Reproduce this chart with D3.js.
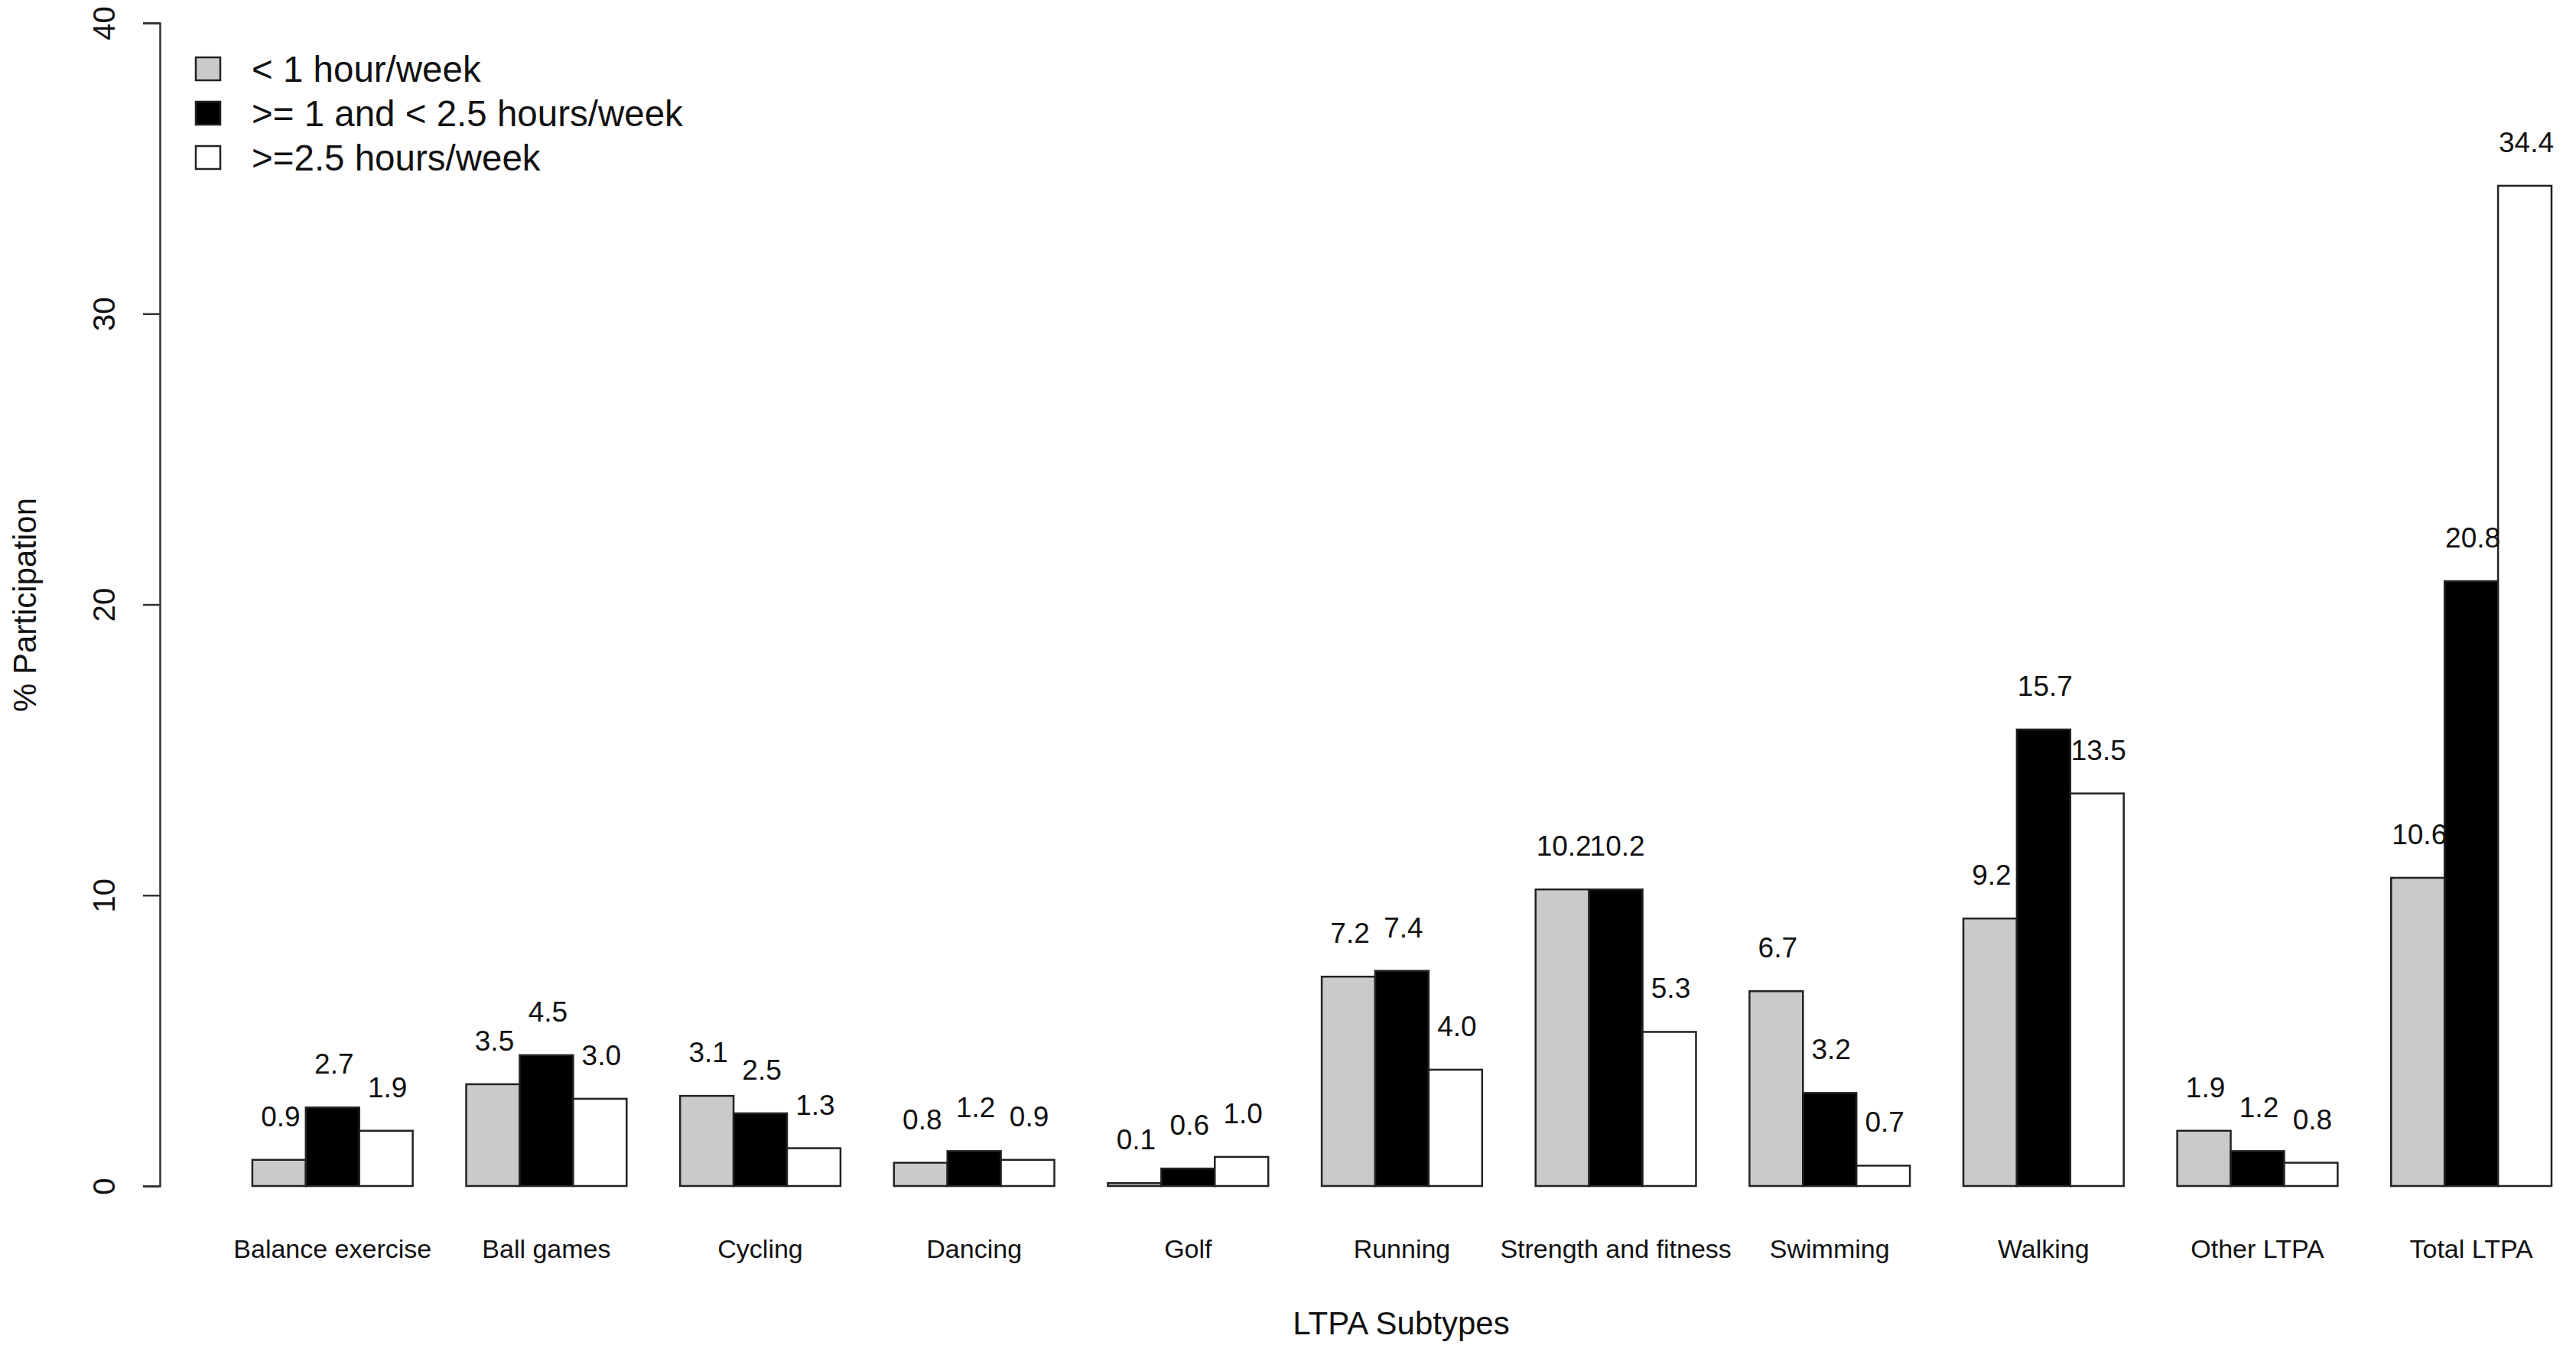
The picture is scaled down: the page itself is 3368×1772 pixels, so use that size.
<!DOCTYPE html>
<html>
<head>
<meta charset="utf-8">
<script src="https://cdn.jsdelivr.net/npm/d3@7"></script>
<style>
  body { margin: 0; background: #fff; }
  text { font-family: "Liberation Sans", Arial, sans-serif; fill: #111; }
</style>
</head>
<body>
<svg id="chart" width="3368" height="1772"></svg>
<script>
// categories on the x axis
var categories = ['Balance exercise', 'Ball games', 'Cycling', 'Dancing', 'Golf', 'Running',
    'Strength and fitness', 'Swimming', 'Walking', 'Other LTPA', 'Total LTPA'];

// series names (legend) and their values (% participation)
var seriesNames = ['< 1 hour/week', '>= 1 and < 2.5 hours/week', '>=2.5 hours/week'];
var lessThan1 = [0.9, 3.5, 3.1, 0.8, 0.1, 7.2, 10.2, 6.7, 9.2, 1.9, 10.6];
var between1and25 = [2.7, 4.5, 2.5, 1.2, 0.6, 7.4, 10.2, 3.2, 15.7, 1.2, 20.8];
var atLeast25 = [1.9, 3.0, 1.3, 0.9, 1.0, 4.0, 5.3, 0.7, 13.5, 0.8, 34.4];
var seriesValues = [lessThan1, between1and25, atLeast25];
var seriesFill = ['#cacaca', '#000000', '#ffffff'];

var yTicks = [0, 10, 20, 30, 40];

var svg = d3.select('#chart');

var x0 = d3.scaleBand()
    .domain(categories)
    .range([260, 3336])
    .paddingInner(0.25)
    .paddingOuter(0.125)
    .align(1);

var x1 = d3.scaleBand()
    .domain(d3.range(seriesNames.length))
    .range([0, x0.bandwidth()]);

var y = d3.scaleLinear()
    .domain([0, 40])
    .range([1551, 30]);

// bars
var groups = svg.selectAll('g.group')
    .data(categories)
    .enter()
    .append('g')
      .attr('class', 'group')
      .attr('transform', function(d) { return 'translate(' + x0(d) + ',0)'; });

groups.selectAll('rect')
    .data(function(d, i) {
        return seriesValues.map(function(vals, s) { return { s: s, v: vals[i] }; });
    })
    .enter()
    .append('rect')
      .attr('x', function(d) { return x1(d.s); })
      .attr('y', function(d) { return y(d.v); })
      .attr('width', x1.bandwidth())
      .attr('height', function(d) { return y(0) - y(d.v); })
      .attr('fill', function(d) { return seriesFill[d.s]; })
      .attr('stroke', '#222')
      .attr('stroke-width', 2.5);

// value labels above bars
groups.selectAll('text.val')
    .data(function(d, i) {
        return seriesValues.map(function(vals, s) { return { s: s, v: vals[i] }; });
    })
    .enter()
    .append('text')
      .attr('class', 'val')
      .attr('x', function(d) { return x1(d.s) + x1.bandwidth() / 2 + 2; })
      .attr('y', function(d) { return y(d.v) - 57; })
      .attr('dy', '0.35em')
      .attr('text-anchor', 'middle')
      .attr('font-size', 37)
      .text(function(d) { return d.v.toFixed(1); });

// category labels
svg.selectAll('text.cat')
    .data(categories)
    .enter()
    .append('text')
      .attr('class', 'cat')
      .attr('x', function(d) { return x0(d) + x0.bandwidth() / 2; })
      .attr('y', 1633)
      .attr('dy', '0.35em')
      .attr('text-anchor', 'middle')
      .attr('font-size', 34)
      .text(function(d) { return d; });

// y axis
var yAxis = d3.axisLeft(y).tickValues(yTicks).tickSize(22).tickPadding(0).tickFormat(d3.format('d'));
var gy = svg.append('g')
    .attr('transform', 'translate(209,0)')
    .call(yAxis);
gy.select('.domain').attr('stroke', '#333').attr('stroke-width', 2.5);
gy.selectAll('.tick line').attr('stroke', '#333').attr('stroke-width', 2.5);
gy.selectAll('.tick text')
    .attr('x', 0)
    .attr('dy', 0)
    .attr('text-anchor', 'middle')
    .attr('font-size', 40)
    .attr('transform', 'translate(-73,0) rotate(-90)')
    .attr('dominant-baseline', 'central');

// axis titles
svg.append('text')
    .attr('transform', 'translate(32,791) rotate(-90)')
    .attr('text-anchor', 'middle')
    .attr('dominant-baseline', 'central')
    .attr('font-size', 42)
    .text('% Participation');

svg.append('text')
    .attr('x', 1832)
    .attr('y', 1730)
    .attr('dy', '0.35em')
    .attr('text-anchor', 'middle')
    .attr('font-size', 42)
    .text('LTPA Subtypes');

// legend
var legend = svg.append('g').attr('transform', 'translate(256,90)');
var items = legend.selectAll('g')
    .data(seriesNames)
    .enter()
    .append('g')
      .attr('transform', function(d, i) { return 'translate(0,' + i * 58 + ')'; });
items.append('rect')
    .attr('x', 0)
    .attr('y', -15)
    .attr('width', 32)
    .attr('height', 30)
    .attr('fill', function(d, i) { return seriesFill[i]; })
    .attr('stroke', '#222')
    .attr('stroke-width', 2.5);
items.append('text')
    .attr('x', 73)
    .attr('y', 0)
    .attr('dy', '0.35em')
    .attr('font-size', 47.5)
    .text(function(d) { return d; });
</script>
</body>
</html>
